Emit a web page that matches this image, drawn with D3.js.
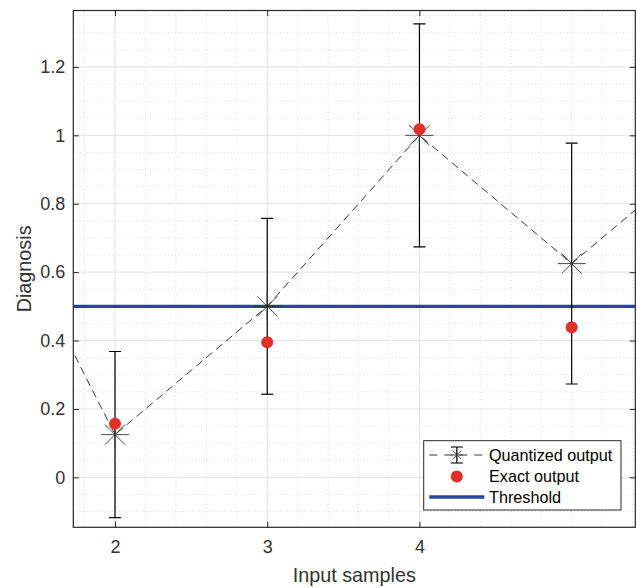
<!DOCTYPE html>
<html>
<head>
<meta charset="utf-8">
<script src="https://cdn.jsdelivr.net/npm/d3@7/dist/d3.min.js"></script>
<style>
  html, body { margin: 0; padding: 0; background: #fff; }
  svg { display: block; font-family: "Liberation Sans", Arial, Helvetica, sans-serif; }
</style>
</head>
<body>
<svg id="chart" width="637" height="588"></svg>
<script>
// ---- data ----
const samples = [1, 2, 3, 4, 5, 6];
const quantized = [1.0, 0.125, 0.5, 1.0, 0.625, 1.0];
const quantErr = [null, 0.243, 0.257, 0.326, 0.352, null];
const exactSamples = [2, 3, 4, 5];
const exactValues = [0.157, 0.395, 1.018, 0.439];
const thresholdValue = 0.5;
const xTicks = [2, 3, 4];
const yTicks = [0, 0.2, 0.4, 0.6, 0.8, 1, 1.2];
const xDomain = [1.726, 5.418];
const yDomain = [-0.146, 1.365];
const legendLabels = ["Quantized output", "Exact output", "Threshold"];
const xLabel = "Input samples";
const yLabel = "Diagnosis";

// ---- layout ----
const L = 73.3, R = 635.3, T = 10.5, B = 527.3;
const textCol = "#262626";
const tickCol = "#333";
const blue = "#2b43a1";
const red = "#e1302a";

const svg = d3.select("#chart");
const x = d3.scaleLinear().domain(xDomain).range([L, R]);
const y = d3.scaleLinear().domain(yDomain).range([B, T]);

svg.append("defs").append("clipPath").attr("id", "clip")
  .append("rect").attr("x", L).attr("y", T).attr("width", R - L).attr("height", B - T);

// minor grid
const xMinor = d3.range(1.8, 5.41, 0.2).map(v => +v.toFixed(2)).filter(v => !xTicks.includes(v));
const yMinor = d3.range(-0.1, 1.36, 0.05).map(v => +v.toFixed(2)).filter(v => !yTicks.some(t => Math.abs(t - v) < 1e-6));
const grid = svg.append("g");
grid.selectAll(".mx").data(xMinor).join("line")
  .attr("x1", d => x(d)).attr("x2", d => x(d)).attr("y1", T).attr("y2", B)
  .attr("stroke", "#d2d2d2").attr("stroke-width", 0.8).attr("stroke-dasharray", "1,2.5");
grid.selectAll(".my").data(yMinor).join("line")
  .attr("y1", d => y(d)).attr("y2", d => y(d)).attr("x1", L).attr("x2", R)
  .attr("stroke", "#d2d2d2").attr("stroke-width", 0.8).attr("stroke-dasharray", "1,2.5");
// major grid
grid.selectAll(".Mx").data(xTicks).join("line")
  .attr("x1", d => x(d)).attr("x2", d => x(d)).attr("y1", T).attr("y2", B)
  .attr("stroke", "#e3e3e3").attr("stroke-width", 1);
grid.selectAll(".My").data(yTicks).join("line")
  .attr("y1", d => y(d)).attr("y2", d => y(d)).attr("x1", L).attr("x2", R)
  .attr("stroke", "#e3e3e3").attr("stroke-width", 1);

const plot = svg.append("g").attr("clip-path", "url(#clip)");

// threshold
plot.append("line")
  .attr("x1", L).attr("x2", R).attr("y1", y(thresholdValue)).attr("y2", y(thresholdValue))
  .attr("stroke", blue).attr("stroke-width", 3.4);

// dashed quantized line
const qData = samples.map((s, i) => ({ s, v: quantized[i], e: quantErr[i] }));
plot.append("path").datum(qData)
  .attr("d", d3.line().x(d => x(d.s)).y(d => y(d.v)))
  .attr("fill", "none").attr("stroke", "#222").attr("stroke-width", 0.9)
  .attr("stroke-dasharray", "8,5");

// error bars
const eb = plot.selectAll(".eb").data(qData.filter(d => d.e != null)).join("g");
eb.append("line").attr("x1", d => x(d.s)).attr("x2", d => x(d.s))
  .attr("y1", d => y(d.v - d.e)).attr("y2", d => y(d.v + d.e))
  .attr("stroke", "#000").attr("stroke-width", 1.2);
[-1, 1].forEach(sg => {
  eb.append("line").attr("x1", d => x(d.s) - 6).attr("x2", d => x(d.s) + 6)
    .attr("y1", d => y(d.v + sg * d.e)).attr("y2", d => y(d.v + sg * d.e))
    .attr("stroke", "#000").attr("stroke-width", 1.2);
});

// star markers
function star(g, r) {
  const d = r * 0.72;
  g.append("line").attr("x1", -r).attr("x2", r).attr("y1", 0).attr("y2", 0);
  g.append("line").attr("x1", 0).attr("x2", 0).attr("y1", -r).attr("y2", r);
  g.append("line").attr("x1", -d).attr("x2", d).attr("y1", -d).attr("y2", d);
  g.append("line").attr("x1", -d).attr("x2", d).attr("y1", d).attr("y2", -d);
}
plot.selectAll(".st").data(qData).join("g")
  .attr("transform", d => `translate(${x(d.s)},${y(d.v)})`)
  .attr("stroke", "#333").attr("stroke-width", 0.9)
  .each(function () { star(d3.select(this), 14); });

// exact dots
plot.selectAll(".ex").data(exactSamples.map((s, i) => ({ s, v: exactValues[i] }))).join("circle")
  .attr("cx", d => x(d.s)).attr("cy", d => y(d.v)).attr("r", 6)
  .attr("fill", red);

// axes
const tl = 5.6;
function styleAxis(g) {
  g.select(".domain").remove();
  g.selectAll(".tick line").attr("stroke", textCol).attr("stroke-width", 1);
  g.selectAll(".tick text").attr("fill", tickCol).attr("font-size", 18)
    .attr("font-family", '"Liberation Sans", Arial, sans-serif');
}
svg.append("g").attr("transform", `translate(0,${B})`)
  .call(d3.axisBottom(x).tickValues(xTicks).tickSizeInner(-tl).tickSizeOuter(0).tickPadding(13).tickFormat(d3.format("d")))
  .call(styleAxis);
svg.append("g").attr("transform", `translate(0,${T})`)
  .call(d3.axisTop(x).tickValues(xTicks).tickSizeInner(-tl).tickSizeOuter(0).tickFormat(""))
  .call(styleAxis);
svg.append("g").attr("transform", `translate(${L},0)`)
  .call(d3.axisLeft(y).tickValues(yTicks).tickSizeInner(-tl).tickSizeOuter(0).tickPadding(8).tickFormat(d => d3.format("")(+d.toFixed(1))))
  .call(styleAxis);
svg.append("g").attr("transform", `translate(${R},0)`)
  .call(d3.axisRight(y).tickValues(yTicks).tickSizeInner(-tl).tickSizeOuter(0).tickFormat(""))
  .call(styleAxis);

// box
svg.append("rect").attr("x", L).attr("y", T).attr("width", R - L).attr("height", B - T)
  .attr("fill", "none").attr("stroke", textCol).attr("stroke-width", 1.2);

// labels
svg.append("text").attr("x", (L + R) / 2).attr("y", 582).attr("text-anchor", "middle")
  .attr("font-size", 19.8).attr("fill", tickCol).text(xLabel);
svg.append("text").attr("transform", `translate(31,${(T + B) / 2}) rotate(-90)`)
  .attr("text-anchor", "middle").attr("font-size", 19.8).attr("fill", tickCol).text(yLabel);

// legend
const lg = svg.append("g");
const lx0 = 423.7, ly0 = 440.7, lw = 197.3, lh = 69.3;
lg.append("rect").attr("x", lx0).attr("y", ly0).attr("width", lw).attr("height", lh)
  .attr("fill", "#fff").attr("stroke", textCol).attr("stroke-width", 1);
const rowY = [455, 476.5, 497];
const iconX1 = 429.3, iconX2 = 484.3, iconC = 456.8, textX = 489;
// row 1
lg.append("line").attr("x1", iconX1).attr("x2", iconX2).attr("y1", rowY[0]).attr("y2", rowY[0])
  .attr("stroke", "#222").attr("stroke-width", 0.9).attr("stroke-dasharray", "8,7");
lg.append("line").attr("x1", iconC).attr("x2", iconC).attr("y1", rowY[0] - 8).attr("y2", rowY[0] + 8)
  .attr("stroke", "#000").attr("stroke-width", 1.1);
[-8, 8].forEach(o => lg.append("line").attr("x1", iconC - 6).attr("x2", iconC + 6)
  .attr("y1", rowY[0] + o).attr("y2", rowY[0] + o).attr("stroke", "#000").attr("stroke-width", 1.1));
const ls = lg.append("g").attr("transform", `translate(${iconC},${rowY[0]})`)
  .attr("stroke", "#333").attr("stroke-width", 0.9);
star(ls, 6);
// row 2
lg.append("circle").attr("cx", iconC).attr("cy", rowY[1]).attr("r", 6).attr("fill", red);
// row 3
lg.append("line").attr("x1", iconX1).attr("x2", iconX2).attr("y1", rowY[2]).attr("y2", rowY[2])
  .attr("stroke", blue).attr("stroke-width", 3.4);
lg.selectAll(".lt").data(legendLabels).join("text")
  .attr("x", textX).attr("y", (d, i) => rowY[i]).attr("dy", "0.35em")
  .attr("font-size", 16.2).attr("fill", "#000").text(d => d);
</script>
</body>
</html>
